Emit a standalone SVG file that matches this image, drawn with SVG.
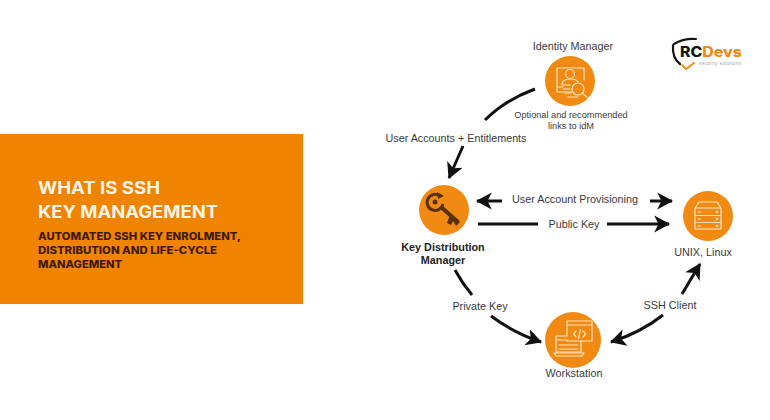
<svg xmlns="http://www.w3.org/2000/svg" width="770" height="420" viewBox="0 0 770 420">
<style>
.lbl{font-family:"Liberation Sans",Arial,sans-serif;font-size:10.800px;fill:#3a3a3a}
.c{text-anchor:middle}
.b{font-weight:bold;fill:#222}
.node{fill:#f08a12}
.ic{fill:none;stroke:#fbe3c0;stroke-width:1.2;stroke-linejoin:round;stroke-linecap:round}
.con{fill:none;stroke:#111;stroke-width:3}
.t1{font-family:Inter,"Liberation Sans",sans-serif;font-size:17px;font-weight:700;fill:#fff5e6}
.t2{font-family:Inter,"Liberation Sans",sans-serif;font-size:10px;font-weight:800;fill:#3f1a08}
</style>
<defs>
<marker id="ah" markerUnits="userSpaceOnUse" markerWidth="19" markerHeight="19" refX="14" refY="9" orient="auto" viewBox="0 0 18 18">
<path d="M0 1 L15 9 L0 17 L4 9 Z" fill="#111"/>
</marker>
</defs>
<rect width="770" height="420" fill="#fff"/>
<g id="banner">
<rect x="0" y="134" width="303" height="170" fill="#f08300"/>
<text class="t1" x="38" y="194" textLength="122" lengthAdjust="spacingAndGlyphs">WHAT IS SSH</text>
<text class="t1" x="38" y="218" textLength="180" lengthAdjust="spacingAndGlyphs">KEY MANAGEMENT</text>
<text class="t2" x="38" y="240" textLength="203" lengthAdjust="spacingAndGlyphs">AUTOMATED SSH KEY ENROLMENT,</text>
<text class="t2" x="38" y="254" textLength="179" lengthAdjust="spacingAndGlyphs">DISTRIBUTION AND LIFE-CYCLE</text>
<text class="t2" x="38" y="268" textLength="84" lengthAdjust="spacingAndGlyphs">MANAGEMENT</text>
</g>
<g id="logo">
<path d="M674 44 Q684 38 696 39 M673 45 Q672 58 680 64" fill="none" stroke="#151515" stroke-width="2.200" stroke-linecap="round"/>
<path d="M682 65 L686 69 L694 63" fill="none" stroke="#f08a12" stroke-width="1.800" stroke-linecap="round"/>
<text x="680" y="57" font-family="Inter,'Liberation Sans',sans-serif" font-size="14" font-weight="800" textLength="62" lengthAdjust="spacingAndGlyphs"><tspan fill="#151515">RC</tspan><tspan fill="#f08a12">Devs</tspan></text>
<text x="699" y="65" font-family="'Liberation Sans',sans-serif" font-size="4.500" fill="#9a9a9a" textLength="42">security solutions</text>
</g>
<g id="connectors">
<path class="con" d="M535 89 C513 97 497 108 485 120"/>
<path class="con" d="M463 146 L449 178" marker-end="url(#ah)"/>
<path class="con" d="M502 201 L477 201" marker-end="url(#ah)"/>
<path class="con" d="M650 201 L672 201" marker-end="url(#ah)"/>
<path class="con" d="M478 224 L538 224"/>
<path class="con" d="M607 224 L669 224" marker-end="url(#ah)"/>
<path class="con" d="M455 270 Q462 283 472 295"/>
<path class="con" d="M491 316 Q514 333 541 342" marker-end="url(#ah)"/>
<path class="con" d="M663 315 Q640 333 611 342" marker-end="url(#ah)"/>
<path class="con" d="M682 294 L700 264" marker-end="url(#ah)"/>
</g>
<g id="identity-manager">
<circle class="node" cx="570" cy="81" r="25"/>
<path class="ic" d="M572 92 H557 V68 H584 V80 M557 87 H563"/>
<circle class="ic" cx="570" cy="74" r="4.500"/>
<path class="ic" d="M562 84 Q563 79 570 79 Q577 79 578 82"/>
<circle class="ic" cx="578" cy="89" r="6"/>
<path class="ic" d="M582 93 L588 98 M562 85 H570 M563 89 H570 M565 93 H571 M568 97 H578"/>
<text class="lbl c" x="573" y="50">Identity Manager</text>
<text class="lbl c" style="font-size:9.200px" x="571" y="117.500">Optional and recommended</text>
<text class="lbl c" style="font-size:9.200px" x="571" y="129">links to idM</text>
</g>
<g id="key-distribution-manager">
<circle class="node" cx="444" cy="210" r="25"/>
<path d="M440 196 A8 8 0 1 0 443 204" fill="none" stroke="#5a3008" stroke-width="3"/>
<path d="M437 192 L444 196 L438 199 Z" fill="#5a3008"/>
<circle cx="435" cy="202" r="2.500" fill="#5a3008"/>
<path d="M441 207 L458 222" fill="none" stroke="#5a3008" stroke-width="4"/>
<path d="M450 215 L447 223 L451 225 L453 221 L456 226 L460 222 Z" fill="#5a3008"/>
<text class="lbl c b" x="443" y="251">Key Distribution</text>
<text class="lbl c b" x="443" y="264">Manager</text>
</g>
<g id="unix-linux">
<circle class="node" cx="708" cy="216" r="25"/>
<path class="ic" d="M695 208 L699 202 H717 L721 208 V229 H695 Z M695 208 H721 M695 215.500 H721 M695 222.500 H721 M698 212 H701 M698 219 H701 M698 226 H701"/>
<circle cx="717" cy="212" r="1.300" fill="#fbe3c0"/><circle cx="717" cy="219" r="1.300" fill="#fbe3c0"/><circle cx="717" cy="226" r="1.300" fill="#fbe3c0"/>
<text class="lbl c" x="703" y="256">UNIX, Linux</text>
</g>
<g id="workstation">
<circle class="node" cx="573" cy="340" r="28"/>
<path class="ic" d="M567 336 V321 H592 V341 H581 M567 325 H592"/>
<path class="ic" stroke-width="1.500" d="M576 331 L573.500 334 L576 337 M583 331 L585.500 334 L583 337 M580.500 329.500 L578.500 338.500"/>
<path class="ic" d="M567 336 H556 V352 H581 V341 M556 340 H567 V341 H581 M559 345 H578 M559 349 H578"/>
<path class="ic" d="M554 353 H584 L582 356 H556 Z"/>
<text class="lbl c" x="574" y="377">Workstation</text>
</g>
<g id="labels">
<text class="lbl c" x="456" y="142" textLength="141" lengthAdjust="spacingAndGlyphs">User Accounts + Entitlements</text>
<text class="lbl c" x="575" y="203">User Account Provisioning</text>
<text class="lbl c" x="574" y="228">Public Key</text>
<text class="lbl c" x="480" y="310">Private Key</text>
<text class="lbl c" x="670" y="309">SSH Client</text>
</g>
</svg>
